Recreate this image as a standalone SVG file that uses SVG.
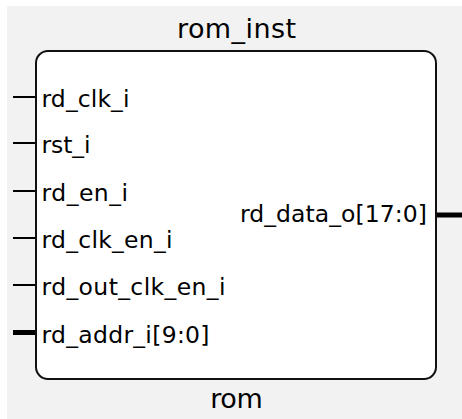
<svg xmlns="http://www.w3.org/2000/svg" width="462" height="419" viewBox="0 0 462 419">
  <style>
    .lbl { font-family: "DejaVu Sans", Verdana, sans-serif; font-size: 23.5px; fill: #000; }
    .ttl { font-family: "DejaVu Sans", Verdana, sans-serif; font-size: 27px; fill: #000; text-anchor: middle; }
    .pin { stroke: #000; stroke-width: 2; fill: none; }
    .bus { stroke: #000; stroke-width: 5; fill: none; }
  </style>
  <rect x="0" y="0" width="462" height="419" fill="#ffffff"/>
  <rect x="7" y="6" width="455" height="413" fill="#f2f2f2"/>
  <g id="connectors">
    <line class="pin" x1="13" y1="97" x2="36" y2="97"/>
    <line class="pin" x1="13" y1="143" x2="36" y2="143"/>
    <line class="pin" x1="13" y1="191" x2="36" y2="191"/>
    <line class="pin" x1="13" y1="238" x2="36" y2="238"/>
    <line class="pin" x1="13" y1="285" x2="36" y2="285"/>
    <line class="bus" x1="13" y1="332.5" x2="36" y2="332.5"/>
    <line class="bus" x1="436" y1="215" x2="462" y2="215"/>
  </g>
  <g id="rom_inst">
    <text class="ttl" x="236.5" y="38" textLength="119">rom_inst</text>
    <rect x="36" y="51" width="400" height="328" rx="12" ry="12" fill="#ffffff" stroke="#111" stroke-width="2"/>
    <text class="lbl" x="41.5" y="106.5" textLength="88">rd_clk_i</text>
    <text class="lbl" x="41.5" y="152.5" textLength="49">rst_i</text>
    <text class="lbl" x="41.5" y="200.5" textLength="86.5">rd_en_i</text>
    <text class="lbl" x="41.5" y="247.5" textLength="131">rd_clk_en_i</text>
    <text class="lbl" x="41.5" y="294.5" textLength="184">rd_out_clk_en_i</text>
    <text class="lbl" x="41.5" y="342.5" textLength="168">rd_addr_i[9:0]</text>
    <text class="lbl" x="240" y="221.5" textLength="187">rd_data_o[17:0]</text>
    <text class="ttl" x="236.5" y="407.5" textLength="52.5">rom</text>
  </g>
</svg>
